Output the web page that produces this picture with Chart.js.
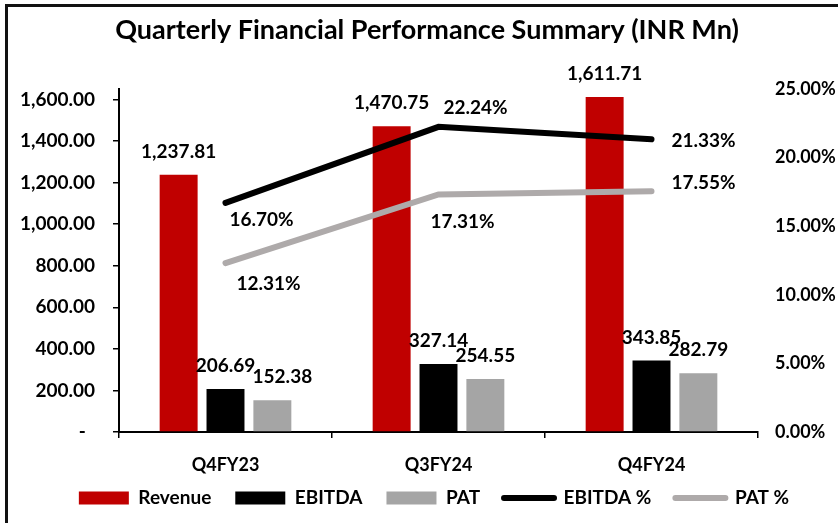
<!DOCTYPE html>
<html>
<head>
<meta charset="utf-8">
<script src="https://cdn.jsdelivr.net/npm/chart.js@4.4.1/dist/chart.umd.min.js"></script>
<style>
  body { margin: 0; background: #fff; }
  #wrap { position: relative; width: 838px; height: 523px; overflow: hidden; }
  #frame {
    position: absolute; left: 5px; top: 4px; right: -10px; bottom: -10px;
    border-left: 3px solid #111; border-top: 3px solid #111;
    pointer-events: none;
  }
</style>
</head>
<body>
<div id="wrap">
  <canvas id="perfChart"></canvas>
  <div id="frame"></div>
</div>
<script>
// values
const quarters = ['Q4FY23', 'Q3FY24', 'Q4FY24'];
const revenue = [1237.81, 1470.75, 1611.71];
const ebitda = [206.69, 327.14, 343.85];
const pat = [152.38, 254.55, 282.79];
const ebitdaPct = [16.70, 22.24, 21.33];
const patPct = [12.31, 17.31, 17.55];
const leftTicks = [0, 200, 400, 600, 800, 1000, 1200, 1400, 1600];
const rightTicks = [0, 5, 10, 15, 20, 25];

Chart.defaults.font.family = 'Lato';
Chart.defaults.font.weight = 'bold';
Chart.defaults.color = '#000';

const fmtNum = v => v.toLocaleString('en-US', { minimumFractionDigits: 2, maximumFractionDigits: 2 });

// value labels, drawn after the datasets
const valueLabels = {
  id: 'valueLabels',
  afterDatasetsDraw(chart) {
    const ctx = chart.ctx;
    ctx.save();
    ctx.font = 'bold 19px Lato';
    ctx.fillStyle = '#000';
    ctx.textAlign = 'center';
    ctx.textBaseline = 'middle';
    chart.data.datasets.forEach((ds, i) => {
      const meta = chart.getDatasetMeta(i);
      meta.data.forEach((el, j) => {
        const v = ds.data[j];
        if (ds.type === 'line') {
          const off = ds.labelOffsets[j];
          ctx.fillText(v.toFixed(2) + '%', el.x + off[0], el.y + off[1]);
        } else {
          const dx = ds.labelShift ? ds.labelShift[j] : 0;
          ctx.fillText(fmtNum(v), el.x + dx, el.y - 23);
        }
      });
    });
    ctx.restore();
  }
};

// move the legend up/right a little after layout, and stop the x labels being clipped
const nudgeLegend = {
  id: 'nudgeLegend',
  afterLayout(chart) {
    const lg = chart.legend;
    lg.top -= 5.5; lg.bottom -= 5.5;
    lg.left += 7; lg.right += 7;
    chart.scales.x.bottom += 14;
  }
};

new Chart(document.getElementById('perfChart'), {
  data: {
    labels: quarters,
    datasets: [
      { type: 'bar', label: 'Revenue', data: revenue, backgroundColor: '#C00000', yAxisID: 'y', order: 1 },
      { type: 'bar', label: 'EBITDA', data: ebitda, backgroundColor: '#000000', yAxisID: 'y', order: 1 },
      { type: 'bar', label: 'PAT', data: pat, backgroundColor: '#A5A5A5', yAxisID: 'y', order: 1,
        labelShift: [10, 0, 0] },
      { type: 'line', label: 'EBITDA %', data: ebitdaPct, borderColor: '#000000', backgroundColor: '#000000',
        borderWidth: 6, borderCapStyle: 'round', pointRadius: 0, yAxisID: 'y1', order: 0,
        labelOffsets: [[36, 17], [37, -19], [52, 2]] },
      { type: 'line', label: 'PAT %', data: patPct, borderColor: '#AEAAAA', backgroundColor: '#AEAAAA',
        borderWidth: 6, borderCapStyle: 'round', pointRadius: 0, yAxisID: 'y1', order: 0,
        labelOffsets: [[43, 21], [24, 27], [52, -8]] }
    ]
  },
  options: {
    responsive: true,
    maintainAspectRatio: false,
    animation: false,
    layout: { padding: { left: 16, right: 0, top: 0, bottom: 0 } },
    datasets: { bar: { categoryPercentage: 0.66, barPercentage: 0.81 } },
    scales: {
      x: {
        grid: { drawOnChartArea: false, color: '#000', tickLength: 6, lineWidth: 1.5 },
        border: { color: '#000', width: 2 },
        ticks: { font: { size: 18, weight: 'bold' }, padding: 16 },
        afterFit(scale) { scale.height = 38; }
      },
      y: {
        position: 'left',
        min: 0,
        max: 1650,
        grid: { drawOnChartArea: false, color: '#000', tickLength: 6, lineWidth: 1.5 },
        border: { color: '#000', width: 2 },
        ticks: {
          padding: 18,
          font: { size: 19, weight: 'bold' },
          callback: v => v === 0 ? '-  ' : fmtNum(v)
        },
        afterBuildTicks(scale) { scale.ticks = leftTicks.map(v => ({ value: v })); },
        afterFit(scale) { scale.width = 103; }
      },
      y1: {
        position: 'right',
        min: 0,
        max: 25,
        grid: { display: false, drawTicks: false },
        border: { display: false },
        ticks: {
          padding: 17,
          font: { size: 18, weight: 'bold' },
          callback: v => v.toFixed(2) + '%'
        },
        afterBuildTicks(scale) { scale.ticks = rightTicks.map(v => ({ value: v })); },
        afterFit(scale) { scale.width = 80; }
      }
    },
    plugins: {
      title: {
        display: true,
        text: 'Quarterly Financial Performance Summary (INR Mn)',
        font: { size: 27, weight: 'bold' },
        color: '#000',
        padding: { top: 14, bottom: 42.6 }
      },
      legend: {
        position: 'bottom',
        labels: {
          usePointStyle: true,
          pointStyleWidth: 50,
          boxHeight: 13,
          padding: 24,
          font: { size: 19, weight: 'bold' },
          sort: (a, b) => a.datasetIndex - b.datasetIndex,
          generateLabels(chart) {
            return chart.data.datasets.map((ds, i) => {
              const isLine = ds.type === 'line';
              return {
                text: ds.label,
                datasetIndex: i,
                fillStyle: isLine ? ds.borderColor : ds.backgroundColor,
                strokeStyle: isLine ? ds.borderColor : ds.backgroundColor,
                lineWidth: isLine ? 6 : 0,
                lineCap: 'round',
                pointStyle: isLine ? 'line' : 'rect',
                fontColor: '#000',
                hidden: false
              };
            });
          }
        }
      },
      tooltip: { enabled: false }
    }
  },
  plugins: [valueLabels, nudgeLegend]
});
</script>
</body>
</html>
